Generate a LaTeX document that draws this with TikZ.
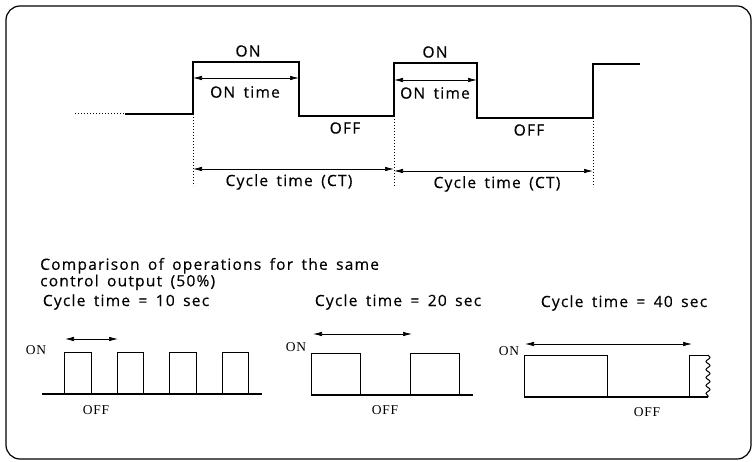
\documentclass[tikz,border=0pt]{standalone}
\usepackage{fontspec}
\setmainfont{Open Sans}
\newfontfamily\lblfont[LetterSpace=8,WordSpace=1.6,FakeBold=0.4]{Open Sans}
\newfontfamily\seriffam[LetterSpace=5]{Liberation Serif}
\usetikzlibrary{arrows.meta,decorations.pathmorphing}
\begin{document}
\begin{tikzpicture}[x=1pt,y=-1pt,
  wave/.style={line width=1.6pt},
  dim/.style={{Latex[length=9pt,width=4.5pt]}-{Latex[length=9pt,width=4.5pt]}, line width=0.7pt},
  guide/.style={dotted, line width=1pt},
  lbl/.style={font=\lblfont\fontsize{15.5}{13.5}\selectfont, inner sep=0},
  slbl/.style={font=\seriffam\fontsize{13.5}{15}\selectfont, inner sep=0},
  pulse/.style={line width=1pt},
  base/.style={line width=1.3pt}]
\useasboundingbox (0,0) rectangle (754,462);
\draw[line width=1.2pt, rounded corners=14pt] (6,6) rectangle (751,459);

% ---- top waveform
\coordinate (s0) at (75,114);
\coordinate (s1) at (125,114);
\coordinate (r1b) at (193,114);
\coordinate (r1t) at (193,62);
\coordinate (f1t) at (299,62);
\coordinate (f1b) at (299,116);
\coordinate (r2b) at (394,116);
\coordinate (r2t) at (394,63);
\coordinate (f2t) at (477,63);
\coordinate (f2b) at (477,118);
\coordinate (r3b) at (593,118);
\coordinate (r3t) at (593,64);
\coordinate (e) at (640,64);
\draw[guide] (s0) -- (s1);
\draw[wave] (s1) -- (r1b) -- (r1t) -- (f1t) -- (f1b) -- (r2b) -- (r2t) -- (f2t) -- (f2b) -- (r3b) -- (r3t) -- (e);

\coordinate (g1) at (193,186);
\coordinate (g2) at (394,187);
\coordinate (g3) at (593,187);
\draw[guide] (r1b) -- (g1);
\draw[guide] (r2b) -- (g2);
\draw[guide] (r3b) -- (g3);

\coordinate (a1l) at (193,78);
\coordinate (a1r) at (299,78);
\coordinate (a2l) at (394,80);
\coordinate (a2r) at (477,80);
\draw[dim] (a1l) -- (a1r);
\draw[dim] (a2l) -- (a2r);
\coordinate (c1l) at (193,169);
\coordinate (c1r) at (394,169);
\coordinate (c2l) at (394,171);
\coordinate (c2r) at (593,171);
\draw[dim] (c1l) -- (c1r);
\draw[dim] (c2l) -- (c2r);

\node[lbl] (on1) at (248,51) {ON};
\node[lbl] (on2) at (435,52) {ON};
\node[lbl] (ont1) at (245,92) {ON time};
\node[lbl] (ont2) at (435,93) {ON time};
\node[lbl] (off1) at (345,128) {OFF};
\node[lbl] (off2) at (529,130) {OFF};
\node[lbl] (ct1) at (289,182) {Cycle time (CT)};
\node[lbl] (ct2) at (497,184) {Cycle time (CT)};

% ---- bottom
\node[lbl, anchor=west, align=left] (cmp) at (40,274) {Comparison of operations for the same\\control output (50\%)};
\node[lbl] (t10) at (126,302) {Cycle time = 10 sec};
\node[lbl] (t20) at (398,302) {Cycle time = 20 sec};
\node[lbl] (t40) at (624,303) {Cycle time = 40 sec};

% waveform 1
\node[slbl] (on10) at (36,350) {ON};
\node[slbl] (off10) at (96,410) {OFF};
\coordinate (b10l) at (42,394);
\coordinate (b10r) at (262,394);
\draw[base] (b10l) -- (b10r);
\foreach \xa/\xb in {64/91,117/143,169/196,222/248}
  \draw[pulse] (\xa,394) -- (\xa,352) -- (\xb,352) -- (\xb,394);
\coordinate (d10l) at (65,339);
\coordinate (d10r) at (118,339);
\draw[dim] (d10l) -- (d10r);

% waveform 2
\node[slbl] (on20) at (296,347) {ON};
\node[slbl] (off20) at (385,410) {OFF};
\coordinate (b20l) at (311,395);
\coordinate (b20r) at (473,395);
\draw[base] (b20l) -- (b20r);
\foreach \xa/\xb in {311/360,410/459}
  \draw[pulse] (\xa,395) -- (\xa,353) -- (\xb,353) -- (\xb,395);
\coordinate (d20l) at (313,334);
\coordinate (d20r) at (412,334);
\draw[dim] (d20l) -- (d20r);

% waveform 3
\node[slbl] (on40) at (509,351) {ON};
\node[slbl] (off40) at (647,412) {OFF};
\coordinate (b40l) at (524,397);
\coordinate (b40r) at (708,397);
\draw[base] (b40l) -- (b40r);
\draw[pulse] (524,397) -- (524,355) -- (607,355) -- (607,397);
\draw[pulse] (689,397) -- (689,355) -- (708,355);
\draw[pulse, decorate, decoration={snake, segment length=8pt, amplitude=2pt}] (708,355) -- (708,397);
\coordinate (d40l) at (525,344);
\coordinate (d40r) at (692,344);
\draw[dim] (d40l) -- (d40r);
\end{tikzpicture}
\end{document}
